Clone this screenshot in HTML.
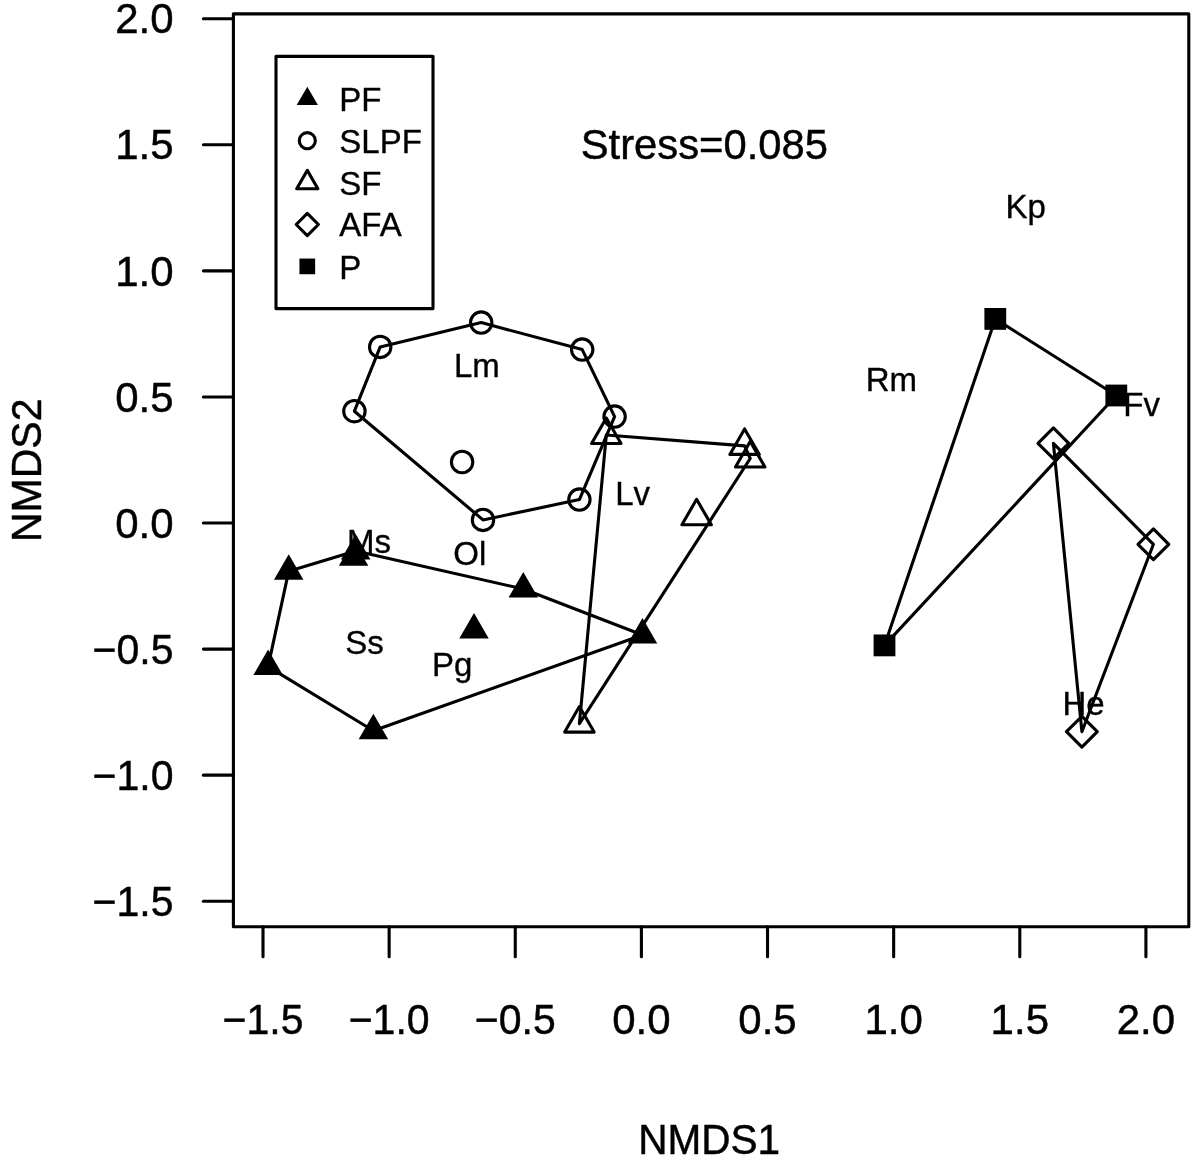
<!DOCTYPE html>
<html><head><meta charset="utf-8"><title>NMDS</title>
<style>html,body{margin:0;padding:0;background:#fff}body{width:1198px;height:1158px;overflow:hidden}</style></head>
<body>
<svg width="1198" height="1158" viewBox="0 0 1198 1158" style="display:block">
<rect x="0" y="0" width="1198" height="1158" fill="#fff"/>
<g fill="none" stroke="#000" stroke-width="3.1" stroke-linecap="round" stroke-linejoin="round">
<rect x="233.4" y="13.9" width="955.40" height="912.90"/>
<line x1="263.01" y1="926.8" x2="263.01" y2="956.80"/>
<line x1="389.14" y1="926.8" x2="389.14" y2="956.80"/>
<line x1="515.27" y1="926.8" x2="515.27" y2="956.80"/>
<line x1="641.40" y1="926.8" x2="641.40" y2="956.80"/>
<line x1="767.53" y1="926.8" x2="767.53" y2="956.80"/>
<line x1="893.66" y1="926.8" x2="893.66" y2="956.80"/>
<line x1="1019.79" y1="926.8" x2="1019.79" y2="956.80"/>
<line x1="1145.92" y1="926.8" x2="1145.92" y2="956.80"/>
<line x1="233.4" y1="901.23" x2="203.40" y2="901.23"/>
<line x1="233.4" y1="775.15" x2="203.40" y2="775.15"/>
<line x1="233.4" y1="649.08" x2="203.40" y2="649.08"/>
<line x1="233.4" y1="523.00" x2="203.40" y2="523.00"/>
<line x1="233.4" y1="396.93" x2="203.40" y2="396.93"/>
<line x1="233.4" y1="270.85" x2="203.40" y2="270.85"/>
<line x1="233.4" y1="144.77" x2="203.40" y2="144.77"/>
<line x1="233.4" y1="18.70" x2="203.40" y2="18.70"/>
<rect x="276" y="56.4" width="157" height="252.2"/>
</g>
<g fill="#000" stroke="none">
<polygon points="288.70,554.20 303.42,579.70 273.98,579.70"/>
<polygon points="353.60,540.20 368.32,565.70 338.88,565.70"/>
<polygon points="355.70,534.00 370.42,559.50 340.98,559.50"/>
<polygon points="268.10,649.60 282.82,675.10 253.38,675.10"/>
<polygon points="373.40,713.80 388.12,739.30 358.68,739.30"/>
<polygon points="474.00,613.10 488.72,638.60 459.28,638.60"/>
<polygon points="523.30,572.00 538.02,597.50 508.58,597.50"/>
<polygon points="642.50,618.00 657.22,643.50 627.78,643.50"/>
<rect x="984.40" y="308.00" width="21.80" height="21.80"/>
<rect x="1105.40" y="384.60" width="21.80" height="21.80"/>
<rect x="873.60" y="634.50" width="21.80" height="21.80"/>
</g>
<g fill="none" stroke="#000" stroke-width="3.1" stroke-linejoin="round" stroke-linecap="round">
<circle cx="481.2" cy="322.6" r="10.7"/>
<circle cx="380.2" cy="346.9" r="10.7"/>
<circle cx="354.4" cy="411.2" r="10.7"/>
<circle cx="462.1" cy="462.0" r="10.7"/>
<circle cx="483.0" cy="519.9" r="10.7"/>
<circle cx="579.4" cy="499.6" r="10.7"/>
<circle cx="614.6" cy="416.6" r="10.7"/>
<circle cx="582.2" cy="349.6" r="10.7"/>
<polygon points="606.30,418.00 621.02,443.50 591.58,443.50"/>
<polygon points="696.60,499.30 711.32,524.80 681.88,524.80"/>
<polygon points="744.60,428.90 759.32,454.40 729.88,454.40"/>
<polygon points="750.20,441.50 764.92,467.00 735.48,467.00"/>
<polygon points="579.40,706.60 594.12,732.10 564.68,732.10"/>
<polygon points="1037.99,443.30 1053.40,458.71 1068.81,443.30 1053.40,427.89"/>
<polygon points="1137.99,544.30 1153.40,559.71 1168.81,544.30 1153.40,528.89"/>
<polygon points="1066.49,731.70 1081.90,747.11 1097.31,731.70 1081.90,716.29"/>
</g>
<g fill="none" stroke="#000" stroke-width="3.1" stroke-linejoin="round" stroke-linecap="round">
<polygon points="481.20,322.60 582.20,349.60 614.60,416.60 579.40,499.60 483.00,519.90 354.40,411.20 380.20,346.90"/>
<polygon points="288.70,571.20 355.70,551.00 523.30,589.00 642.50,635.00 373.40,730.80 268.10,666.60"/>
<polygon points="606.30,435.00 744.60,445.90 750.20,458.50 579.40,723.60"/>
<polygon points="1053.40,443.30 1153.40,544.30 1081.90,731.70"/>
<polygon points="995.30,318.90 1116.30,395.50 884.50,645.40"/>
</g>
<polygon fill="#000" points="307.30,86.76 317.90,105.12 296.70,105.12"/>
<g fill="none" stroke="#000" stroke-width="3.1" stroke-linejoin="round">
<circle cx="307.3" cy="140.7" r="8.05"/>
<polygon points="307.30,170.36 317.90,188.72 296.70,188.72"/>
<polygon points="296.20,224.50 307.30,235.60 318.40,224.50 307.30,213.40"/>
</g>
<rect fill="#000" x="299.45" y="258.55" width="15.70" height="15.70"/>
<g font-family="Liberation Sans, Arial, Helvetica, sans-serif" fill="#000" font-size="33" stroke="#000" stroke-width="0.35">
<text transform="translate(339.3,110.7) scale(1,1.02)">PF</text>
<text transform="translate(339.3,152.6) scale(1,1.02)">SLPF</text>
<text transform="translate(339.3,194.5) scale(1,1.02)">SF</text>
<text transform="translate(339.3,236.4) scale(1,1.02)">AFA</text>
<text transform="translate(339.3,278.5) scale(1,1.02)">P</text>
<text transform="translate(476.90,376.9) scale(1,1.02)" text-anchor="middle">Lm</text>
<text transform="translate(469.75,564.8) scale(1,1.02)" text-anchor="middle">Ol</text>
<text transform="translate(368.90,553.4) scale(1,1.02)" text-anchor="middle">Ms</text>
<text transform="translate(632.60,504.6) scale(1,1.02)" text-anchor="middle">Lv</text>
<text transform="translate(364.55,654) scale(1,1.02)" text-anchor="middle">Ss</text>
<text transform="translate(452.05,675.5) scale(1,1.02)" text-anchor="middle">Pg</text>
<text transform="translate(1025.65,218.3) scale(1,1.02)" text-anchor="middle">Kp</text>
<text transform="translate(891.30,391) scale(1,1.02)" text-anchor="middle">Rm</text>
<text transform="translate(1141.60,416.4) scale(1,1.02)" text-anchor="middle">Fv</text>
<text transform="translate(1083.50,715) scale(1,1.02)" text-anchor="middle">He</text>
</g>
<g font-family="Liberation Sans, Arial, Helvetica, sans-serif" fill="#000" font-size="41" stroke="#000" stroke-width="0.45">
<text transform="translate(704.30,159.40) scale(1.019,1.02)" text-anchor="middle">Stress=0.085</text>
<text transform="translate(263.01,1034.30) scale(1.0,1.02)" text-anchor="middle">−1.5</text>
<text transform="translate(173.50,915.93) scale(1.0,1.02)" text-anchor="end">−1.5</text>
<text transform="translate(389.14,1034.30) scale(1.0,1.02)" text-anchor="middle">−1.0</text>
<text transform="translate(173.50,789.85) scale(1.0,1.02)" text-anchor="end">−1.0</text>
<text transform="translate(515.27,1034.30) scale(1.0,1.02)" text-anchor="middle">−0.5</text>
<text transform="translate(173.50,663.78) scale(1.0,1.02)" text-anchor="end">−0.5</text>
<text transform="translate(641.40,1034.30) scale(1.024,1.02)" text-anchor="middle">0.0</text>
<text transform="translate(173.50,537.70) scale(1.024,1.02)" text-anchor="end">0.0</text>
<text transform="translate(767.53,1034.30) scale(1.024,1.02)" text-anchor="middle">0.5</text>
<text transform="translate(173.50,411.62) scale(1.024,1.02)" text-anchor="end">0.5</text>
<text transform="translate(893.66,1034.30) scale(1.024,1.02)" text-anchor="middle">1.0</text>
<text transform="translate(173.50,285.55) scale(1.024,1.02)" text-anchor="end">1.0</text>
<text transform="translate(1019.79,1034.30) scale(1.024,1.02)" text-anchor="middle">1.5</text>
<text transform="translate(173.50,159.47) scale(1.024,1.02)" text-anchor="end">1.5</text>
<text transform="translate(1145.92,1034.30) scale(1.024,1.02)" text-anchor="middle">2.0</text>
<text transform="translate(173.50,33.40) scale(1.024,1.02)" text-anchor="end">2.0</text>
<text transform="translate(709.20,1154.10) scale(0.989,1.02)" text-anchor="middle">NMDS1</text>
<text transform="translate(40.90,470.30) rotate(-90) scale(1.0,1.02)" text-anchor="middle">NMDS2</text>
</g>
</svg>
</body></html>
